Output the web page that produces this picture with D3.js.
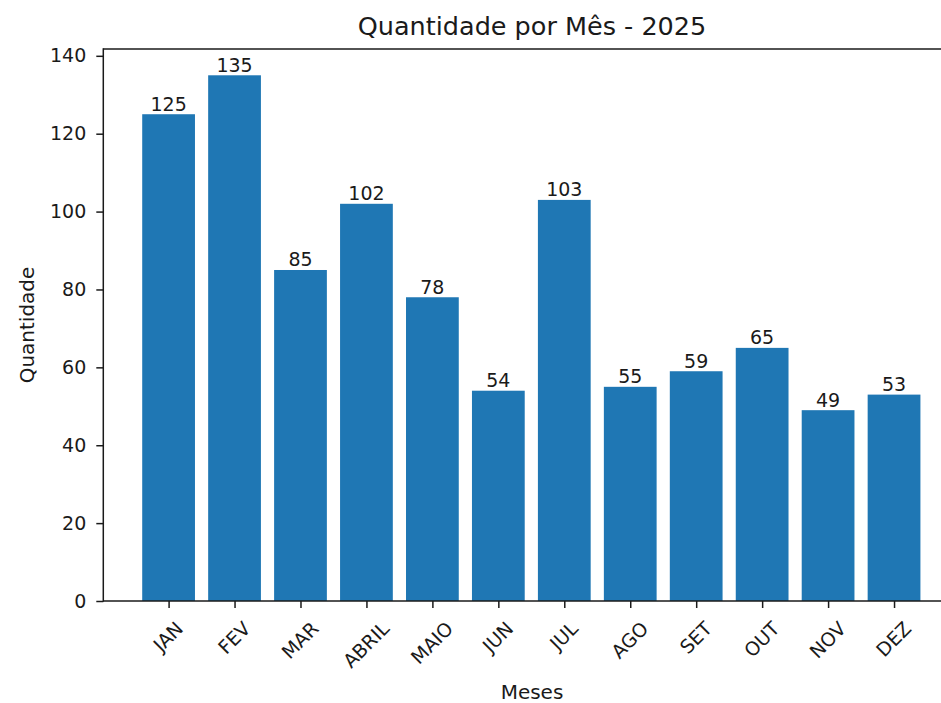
<!DOCTYPE html>
<html><head><meta charset="utf-8">
<script src="https://cdn.jsdelivr.net/npm/d3@7"></script>
<style>
html,body{margin:0;padding:0;background:#fff;overflow:hidden}
text{font-family:"DejaVu Sans",sans-serif;fill:#1a1a1a}
</style></head>
<body>
<svg id="c" width="941" height="703"></svg>
<script>
const months = ["JAN","FEV","MAR","ABRIL","MAIO","JUN","JUL","AGO","SET","OUT","NOV","DEZ"];
const quantities = [125,135,85,102,78,54,103,55,59,65,49,53];
const yTicks = [0,20,40,60,80,100,120,140];
const titleText = "Quantidade por Mês - 2025";
const xLabel = "Meses";
const yLabel = "Quantidade";

const svg = d3.select("#c");
const unit = 65.95;
const mLeft = 103.3, mRight = 103.3 + 12.98*unit, mTop = 49, mBottom = 601;
const fs = 19;
const ink = "#1a1a1a";

const idx = months.map((d,i)=>i);
const x = d3.scaleLinear().domain([-0.99, 11.99]).range([mLeft, mRight]);
const ymax = d3.max(quantities) * 1.05;
const y = d3.scaleLinear().domain([0, ymax]).range([mBottom, mTop]);
const bw = x(0.8) - x(0);

svg.selectAll("rect.bar").data(quantities).join("rect")
  .attr("class","bar")
  .attr("x",(d,i)=>x(i)-bw/2).attr("width",bw)
  .attr("y",d=>y(d)).attr("height",d=>y(0)-y(d))
  .attr("fill","#1f77b4");

svg.selectAll("text.val").data(quantities).join("text")
  .attr("class","val")
  .attr("x",(d,i)=>x(i)).attr("y",d=>y(d)-3.5)
  .attr("text-anchor","middle").attr("font-size",fs).text(d=>d);

// spines
const sp = svg.append("g").attr("stroke",ink).attr("stroke-width",1.5).attr("fill","none");
sp.append("line").attr("x1",mLeft).attr("x2",mLeft).attr("y1",mTop-0.75).attr("y2",mBottom+0.75);
sp.append("line").attr("x1",mLeft).attr("x2",mRight).attr("y1",mBottom).attr("y2",mBottom);
sp.append("line").attr("x1",mLeft).attr("x2",mRight).attr("y1",mTop).attr("y2",mTop);

// y axis
const yAxis = d3.axisLeft(y).tickValues(yTicks).tickSize(7).tickPadding(10).tickFormat(d3.format("d"));
const ga = svg.append("g").attr("transform",`translate(${mLeft},0)`).call(yAxis);
ga.select(".domain").remove();
ga.selectAll(".tick line").attr("stroke",ink).attr("stroke-width",1.5);
ga.selectAll(".tick text").attr("font-size",fs).attr("font-family","DejaVu Sans").attr("fill",ink);

// x axis
const xAxis = d3.axisBottom(x).tickValues(idx).tickSize(7).tickFormat(i=>months[i]);
const gx = svg.append("g").attr("transform",`translate(0,${mBottom})`).call(xAxis);
gx.select(".domain").remove();
gx.selectAll(".tick line").attr("stroke",ink).attr("stroke-width",1.5);
gx.selectAll(".tick text").each(function(){
  const t = d3.select(this);
  t.attr("font-size",fs).attr("font-family","DejaVu Sans").attr("fill",ink)
   .attr("text-anchor","middle").attr("dy",null).attr("y",0);
  const w = this.getComputedTextLength();
  const h = fs*0.75;
  const hr = (w+h)*Math.SQRT1_2;
  const cy = 7 + 12 + hr/2;
  t.attr("y",null).attr("dy","0.36em")
   .attr("transform",`translate(-1,${cy}) rotate(-45)`);
});

svg.append("text").attr("x",532).attr("y",35).attr("text-anchor","middle")
  .attr("font-size",25.5).text(titleText);
svg.append("text").attr("x",532).attr("y",699).attr("text-anchor","middle")
  .attr("font-size",20).text(xLabel);
svg.append("text").attr("transform",`translate(34,${(mTop+mBottom)/2}) rotate(-90)`)
  .attr("text-anchor","middle").attr("font-size",20).text(yLabel);
</script>
</body></html>
